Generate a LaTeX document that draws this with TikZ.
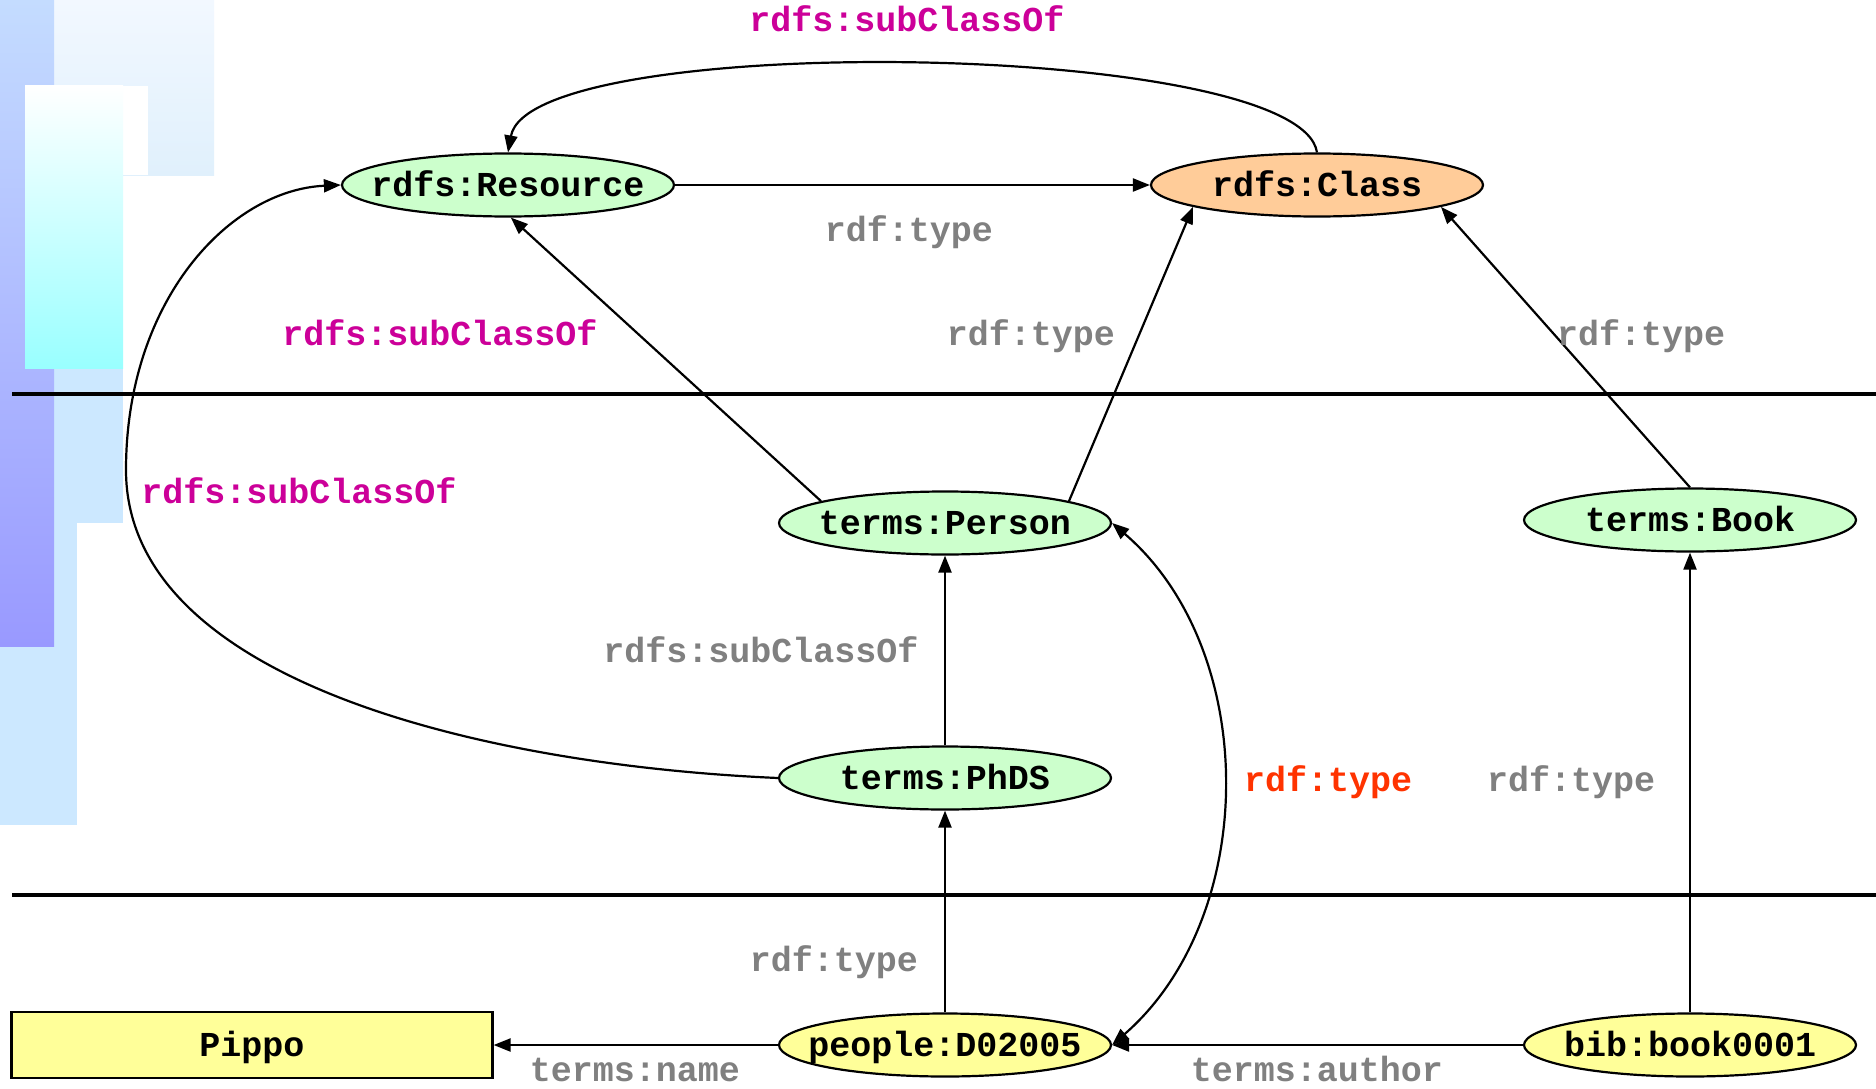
\documentclass[tikz,border=0pt]{standalone}
\usepackage{fontspec}
\setmonofont{Liberation Mono}
\usetikzlibrary{arrows.meta,shapes.geometric}
\definecolor{nodegreen}{HTML}{CCFFCC}
\definecolor{nodeorange}{HTML}{FFCC99}
\definecolor{nodeyellow}{HTML}{FFFF99}
\definecolor{labelgray}{HTML}{808080}
\definecolor{labelmagenta}{HTML}{CC0099}
\definecolor{labelred}{HTML}{FF3300}
\definecolor{decolight}{HTML}{CCE8FF}
\definecolor{decotop}{HTML}{C4DCFF}
\definecolor{decobot}{HTML}{9999FF}
\definecolor{paletop}{HTML}{F2F8FF}
\definecolor{palebot}{HTML}{E0F0FC}
\definecolor{cyanbot}{HTML}{99FFFF}
\newcommand\lblfont{\ttfamily\bfseries\fontsize{35}{40}\selectfont}
\newcommand\nodetxt[1]{\makebox[0pt][c]{#1}}
\tikzset{
  rdfnode/.style={ellipse, draw=black, line width=2.2pt, minimum width=332pt, minimum height=63pt,
    inner sep=0pt, font=\lblfont, text height=22pt, text depth=0pt},
  clsgreen/.style={rdfnode, fill=nodegreen},
  clsorange/.style={rdfnode, fill=nodeorange},
  inst/.style={rdfnode, fill=nodeyellow},
  lit/.style={rectangle, draw=black, line width=2.2pt, fill=nodeyellow, minimum width=481pt,
    minimum height=66pt, inner sep=0pt, font=\lblfont, text height=22pt, text depth=0pt},
  conn/.style={line width=2.2pt, -{Triangle[length=17pt,width=13pt]}},
  connboth/.style={line width=2.2pt, {Triangle[length=17pt,width=13pt]}-{Triangle[length=17pt,width=13pt]}},
  elabel/.style={font=\lblfont, anchor=base, inner sep=0pt},
  glabel/.style={elabel, text=labelgray},
  mlabel/.style={elabel, text=labelmagenta},
  rlabel/.style={elabel, text=labelred},
  sepline/.style={line width=4pt, draw=black}
}
\begin{document}
\begin{tikzpicture}[x=1pt,y=-1pt]
\useasboundingbox (0,0) rectangle (1876,1089);
% background decoration
\fill[white] (0,0) rectangle (1876,1089);
\fill[top color=paletop, bottom color=palebot] (54,0) rectangle (214,175);
\fill[decolight] (0,175) rectangle (123,523);
\fill[decolight] (0,523) rectangle (77,825);
\fill[top color=decotop, bottom color=decobot] (0,0) rectangle (54,646);
\fill[white] (123,86) rectangle (148,175);
\fill[top color=white, bottom color=cyanbot] (25,86) rectangle (123,368);
% separator lines
\coordinate (l1a) at (12,394);
\coordinate (l1b) at (1876,394);
\coordinate (l2a) at (12,895);
\coordinate (l2b) at (1876,895);
\draw[sepline] (l1a) -- (l1b);
\draw[sepline] (l2a) -- (l2b);
% nodes
\node[clsgreen] (res) at (508,185) {\nodetxt{rdfs:Resource}};
\node[clsorange] (cls) at (1317,185) {\nodetxt{rdfs:Class}};
\node[clsgreen] (person) at (945,523) {\nodetxt{terms:Person}};
\node[clsgreen] (book) at (1690,520) {\nodetxt{terms:Book}};
\node[clsgreen] (phds) at (945,778) {\nodetxt{terms:PhDS}};
\node[inst] (d) at (945,1045) {\nodetxt{people:D02005}};
\node[inst] (bib) at (1690,1045) {\nodetxt{bib:book0001}};
\node[lit] (pippo) at (252,1045) {Pippo};
\coordinate (bend) at (126,470);
% connectors
\draw[conn] (res) -- (cls);
\draw[conn] (cls.north) .. controls (1300,40) and (530,30) .. (res.north);
\draw[conn] (person.170) -- (res.-85);
\draw[conn] (person.10) -- (cls.190);
\draw[conn] (book.north) -- (cls.-10);
\draw[conn] (phds) -- (person);
\draw[conn] (d) -- (phds);
\draw[conn] (bib) -- (book);
\draw[conn] (d) -- (pippo);
\draw[conn] (bib) -- (d);
\draw[connboth] (person.east) .. controls (1260,650) and (1260,916) .. (d.east);
\draw[conn] (phds.west) .. controls (480,765) and (126,680) .. (bend)
   .. controls (126,300) and (230,190) .. (res.west);
% labels
\node[mlabel] (t1) at (907,32) {rdfs:subClassOf};
\node[glabel] (t2) at (909,241) {rdf:type};
\node[mlabel] (t3) at (440,345) {rdfs:subClassOf};
\node[glabel] (t4) at (1031,345) {rdf:type};
\node[glabel] (t5) at (1641,345) {rdf:type};
\node[mlabel] (t6) at (299,503) {rdfs:subClassOf};
\node[glabel] (t7) at (761,662) {rdfs:subClassOf};
\node[rlabel] (t8) at (1328,791) {rdf:type};
\node[glabel] (t9) at (1571,791) {rdf:type};
\node[glabel] (t10) at (834,971) {rdf:type};
\node[glabel] (t11) at (635,1081) {terms:name};
\node[glabel] (t12) at (1317,1081) {terms:author};
\end{tikzpicture}
\end{document}
